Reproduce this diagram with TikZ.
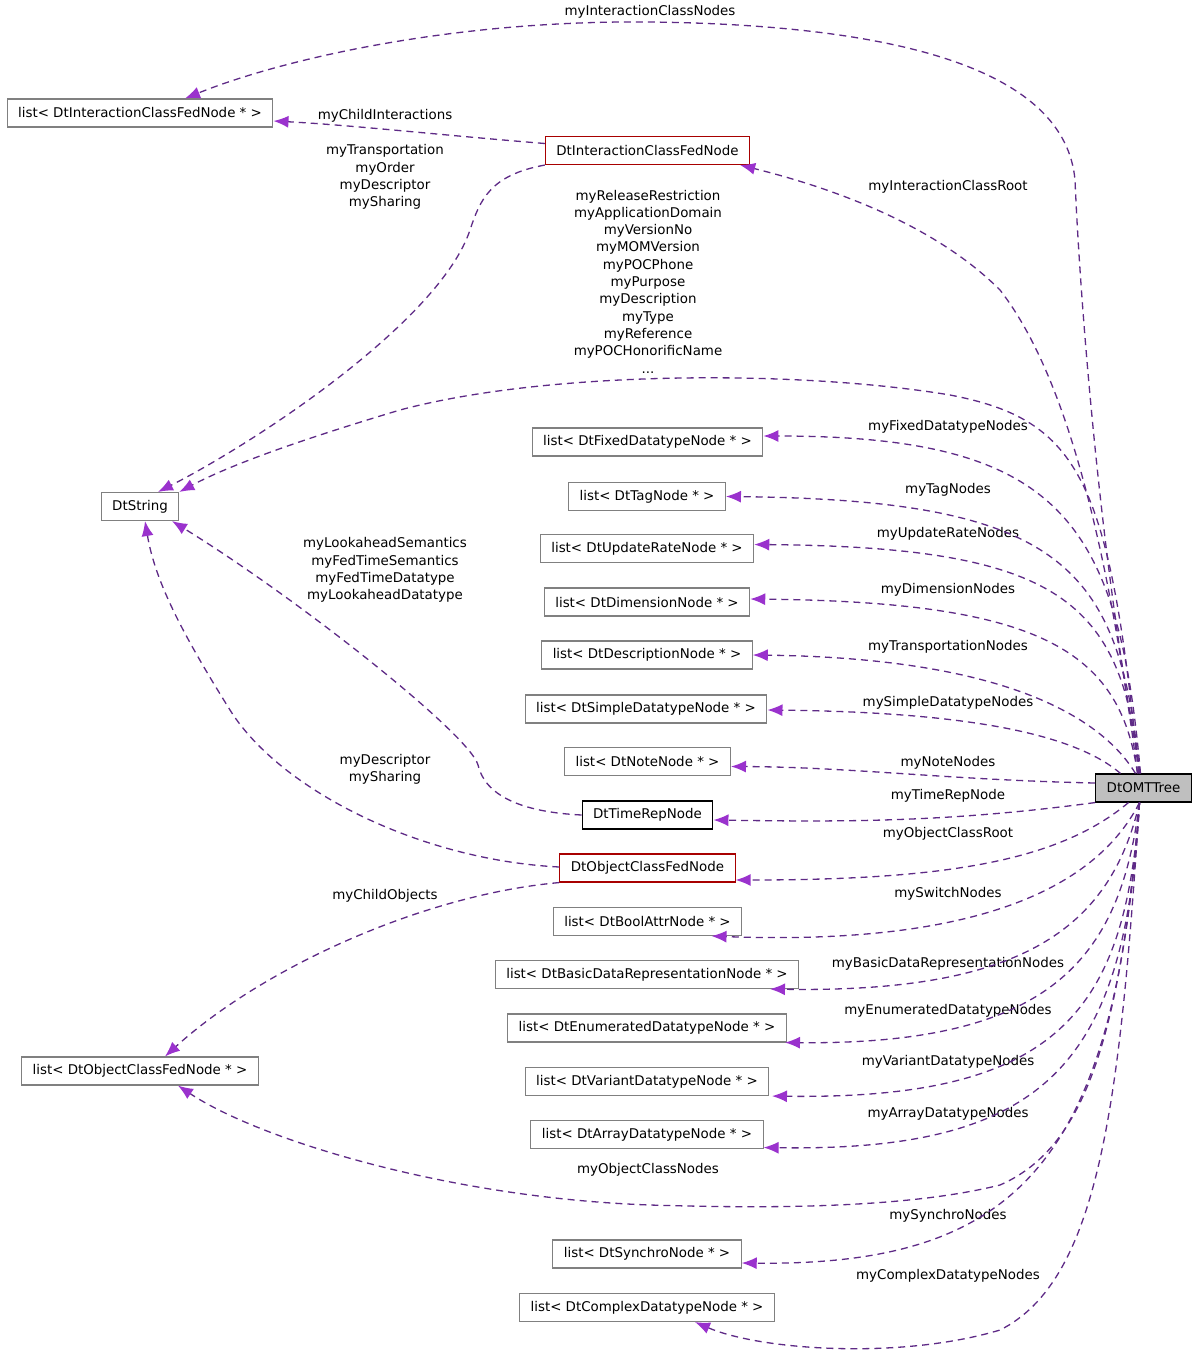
\documentclass[tikz,border=0pt]{standalone}
\usepackage{fontspec}
\setmainfont{DejaVu Sans}
\usetikzlibrary{arrows.meta}
\definecolor{BoxGray}{HTML}{808080}
\definecolor{TruncRed}{HTML}{A80000}
\definecolor{EdgeLine}{HTML}{5E2A86}
\definecolor{EdgeTip}{HTML}{9A32CD}
\definecolor{RootFill}{HTML}{BFBFBF}

\begin{document}
\begin{tikzpicture}[x=1pt,y=-1pt,every node/.style={align=center,inner sep=0pt,font=\fontsize{13.4}{17.3}\selectfont},
  box/.style={draw=BoxGray,line width=1.1pt,fill=white,inner xsep=11pt,minimum height=28pt},
  trunc/.style={box,draw=TruncRed},
  member/.style={draw=EdgeLine,line width=1.3pt,dash pattern=on 7pt off 5pt,-{Latex[length=15pt,width=12pt,color=EdgeTip]}}]
\useasboundingbox (0,0) rectangle (1200,1354);
\node [box] (InteractionList) at (140,113) {list< DtInteractionClassFedNode * >};
\node [trunc] (InteractionNode) at (647.5,150.5) {DtInteractionClassFedNode};
\node [box] (StringNode) at (140,506.5) {DtString};
\node [box] (FixedList) at (647.5,442) {list< DtFixedDatatypeNode * >};
\node [box] (TagList) at (647,496.5) {list< DtTagNode * >};
\node [box] (UpdateRateList) at (647,548.5) {list< DtUpdateRateNode * >};
\node [box] (DimensionList) at (647,602) {list< DtDimensionNode * >};
\node [box] (DescriptionList) at (647,655) {list< DtDescriptionNode * >};
\node [box] (SimpleList) at (646,709) {list< DtSimpleDatatypeNode * >};
\node [box] (NoteList) at (647.5,761.5) {list< DtNoteNode * >};
\node [box,draw=black] (TimeRepNode) at (647.5,815) {DtTimeRepNode};
\node [trunc] (ObjectNode) at (647.5,868) {DtObjectClassFedNode};
\node [box] (BoolAttrList) at (647.5,921.5) {list< DtBoolAttrNode * >};
\node [box] (BasicList) at (647,974.5) {list< DtBasicDataRepresentationNode * >};
\node [box] (EnumList) at (647,1028) {list< DtEnumeratedDatatypeNode * >};
\node [box] (VariantList) at (647,1081.5) {list< DtVariantDatatypeNode * >};
\node [box] (ArrayList) at (647,1134.5) {list< DtArrayDatatypeNode * >};
\node [box] (ObjectList) at (140,1071) {list< DtObjectClassFedNode * >};
\node [box] (SynchroList) at (647,1254) {list< DtSynchroNode * >};
\node [box] (ComplexList) at (647,1307.5) {list< DtComplexDatatypeNode * >};
\node [box,draw=black,fill=RootFill] (OMTTree) at (1143.5,788) {DtOMTTree};
\node (InteractionNodesLabel) at (650,12) {myInteractionClassNodes};
\node (ChildInteractionsLabel) at (385,116) {myChildInteractions};
\node (InteractionAttrLabel) at (385,177) {myTransportation\\myOrder\\myDescriptor\\mySharing};
\node (InteractionRootLabel) at (948,187) {myInteractionClassRoot};
\node (StringAttrLabel) at (648,281.5) {myReleaseRestriction\\myApplicationDomain\\myVersionNo\\myMOMVersion\\myPOCPhone\\myPurpose\\myDescription\\myType\\myReference\\myPOCHonorificName\\...};
\node (FixedLabel) at (948,427) {myFixedDatatypeNodes};
\node (TagLabel) at (948,490) {myTagNodes};
\node (UpdateRateLabel) at (948,534) {myUpdateRateNodes};
\node (DimensionLabel) at (948,590) {myDimensionNodes};
\node (TransportationLabel) at (948,647) {myTransportationNodes};
\node (SimpleLabel) at (948,703) {mySimpleDatatypeNodes};
\node (NoteLabel) at (948,763) {myNoteNodes};
\node (TimeRepLabel) at (948,796) {myTimeRepNode};
\node (TimeAttrLabel) at (385,570) {myLookaheadSemantics\\myFedTimeSemantics\\myFedTimeDatatype\\myLookaheadDatatype};
\node (ObjectRootLabel) at (948,834) {myObjectClassRoot};
\node (ObjectAttrLabel) at (385,769) {myDescriptor\\mySharing};
\node (ChildObjectsLabel) at (385,896) {myChildObjects};
\node (SwitchLabel) at (948,894) {mySwitchNodes};
\node (BasicLabel) at (948,964) {myBasicDataRepresentationNodes};
\node (EnumLabel) at (948,1011) {myEnumeratedDatatypeNodes};
\node (VariantLabel) at (948,1062) {myVariantDatatypeNodes};
\node (ArrayLabel) at (948,1114) {myArrayDatatypeNodes};
\node (ObjectNodesLabel) at (648,1170) {myObjectClassNodes};
\node (SynchroLabel) at (948,1216) {mySynchroNodes};
\node (ComplexLabel) at (948,1276) {myComplexDatatypeNodes};
\draw [member] ([xshift=-3pt]OMTTree.north) .. controls (1100,560) and (1080,300) .. (1075,180) .. controls (1065,70) and (900,25) .. (650,22) .. controls (450,20) and (280,60) .. ([xshift=45pt]InteractionList.north);
\draw [member] ([yshift=7pt]InteractionNode.west) .. controls (440,135) and (350,125) .. ([yshift=-8pt]InteractionList.east);
\draw [member] (InteractionNode.south west) .. controls (490,175) and (480,200) .. (470,230) .. controls (440,320) and (260,440) .. ([xshift=18pt]StringNode.north);
\draw [member] ([xshift=-6pt]OMTTree.north) .. controls (1110,560) and (1070,380) .. (1000,290) .. controls (930,220) and (820,185) .. ([xshift=-10pt]InteractionNode.south east);
\draw [member] ([xshift=-5pt]OMTTree.north) .. controls (1110,480) and (1080,420) .. (950,395) .. controls (800,370) and (550,370) .. (400,410) .. controls (300,440) and (230,465) .. (StringNode.north east);
\draw [member] ([xshift=-3pt]OMTTree.north) .. controls (1118,520) and (1060,436) .. ([yshift=6pt]FixedList.east);
\draw [member] ([xshift=-4pt]OMTTree.north) .. controls (1120,565) and (1060,500) .. (TagList.east);
\draw [member] ([xshift=-4pt]OMTTree.north) .. controls (1122,601) and (1060,547) .. ([yshift=4pt]UpdateRateList.east);
\draw [member] ([xshift=-6pt]OMTTree.north) .. controls (1120,650) and (1040,602) .. ([yshift=3pt]DimensionList.east);
\draw [member] ([xshift=-8pt]OMTTree.north) .. controls (1100,715) and (1000,658) .. (DescriptionList.east);
\draw [member] ([xshift=-23pt]OMTTree.north) .. controls (1070,730) and (950,712) .. ([yshift=-1pt]SimpleList.east);
\draw [member] ([yshift=5pt]OMTTree.west) .. controls (950,780) and (850,767) .. ([yshift=-5pt]NoteList.east);
\draw [member] (OMTTree.south west) .. controls (950,822) and (850,822) .. ([yshift=-5pt]TimeRepNode.east);
\draw [member] (TimeRepNode.west) .. controls (520,812) and (485,795) .. (478,765) .. controls (470,735) and (300,600) .. ([xshift=32pt]StringNode.south);
\draw [member] ([xshift=-15pt]OMTTree.south) .. controls (1060,860) and (950,880) .. ([yshift=-12pt]ObjectNode.east);
\draw [member] ([yshift=1pt]ObjectNode.west) .. controls (420,860) and (280,790) .. (230,710) .. controls (180,630) and (155,580) .. ([xshift=5pt]StringNode.south);
\draw [member] (ObjectNode.south west) .. controls (420,895) and (260,970) .. ([xshift=25pt]ObjectList.north);
\draw [member] ([xshift=-4pt]OMTTree.south) .. controls (1090,900) and (950,945) .. ([xshift=64pt]BoolAttrList.south);
\draw [member] ([xshift=-4pt]OMTTree.south) .. controls (1110,930) and (1020,993) .. ([xshift=123pt]BasicList.south);
\draw [member] ([xshift=-4pt]OMTTree.south) .. controls (1120,960) and (1050,1045) .. ([xshift=138pt]EnumList.south);
\draw [member] ([xshift=-4pt]OMTTree.south) .. controls (1125,1010) and (1060,1100) .. ([xshift=125pt]VariantList.south);
\draw [member] ([xshift=-4pt]OMTTree.south) .. controls (1125,1060) and (1050,1152) .. ([yshift=-13pt]ArrayList.east);
\draw [member] ([xshift=-4pt]OMTTree.south) .. controls (1120,1050) and (1080,1150) .. (1000,1185) .. controls (900,1210) and (750,1208) .. (650,1205) .. controls (450,1198) and (260,1140) .. ([xshift=38pt]ObjectList.south);
\draw [member] ([xshift=-4pt]OMTTree.south) .. controls (1115,1160) and (1020,1266) .. ([yshift=-9pt]SynchroList.east);
\draw [member] ([xshift=-4pt]OMTTree.south) .. controls (1120,1100) and (1100,1280) .. (1000,1330) .. controls (900,1360) and (760,1350) .. ([xshift=48pt]ComplexList.south);
\end{tikzpicture}
\end{document}
